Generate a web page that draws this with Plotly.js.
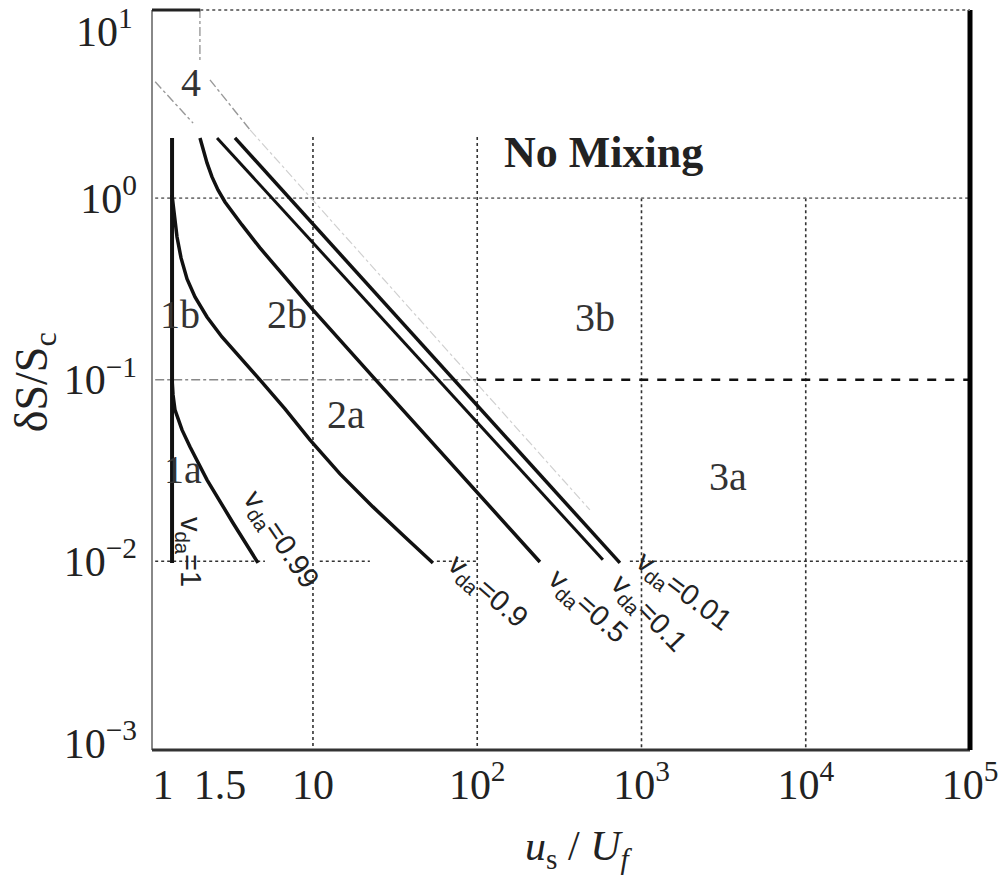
<!DOCTYPE html>
<html><head><meta charset="utf-8">
<script src="https://cdn.plot.ly/plotly-3.0.1.min.js"></script>
<style>html,body{margin:0;padding:0;background:#fff;} #chart{width:1000px;height:883px;}</style>
</head><body><div id="chart"></div>
<script>
// ---- curves (us/Uf , deltaS/Sc) ----
const v1X   = [1.387, 1.387];
const v1Y   = [2.145, 0.0098];
const v099X = [1.387, 1.406, 1.445, 1.595, 1.783, 2.264, 3.26, 4.63];
const v099Y = [0.100, 0.0825, 0.0683, 0.0529, 0.0427, 0.0281, 0.01626, 0.0098];
const v09X  = [1.386, 1.426, 1.487, 1.573, 1.711, 1.913, 2.264, 2.793, 3.594, 4.758, 6.754, 9.587, 14.60, 23.19, 36.31, 53.75];
const v09Y  = [1.041, 0.808, 0.611, 0.4686, 0.3589, 0.2857, 0.2217, 0.1720, 0.1335, 0.0997, 0.0691, 0.0466, 0.0303, 0.01994, 0.01362, 0.0098];
const v05X  = [2.052, 2.141, 2.264, 2.428, 2.641, 2.913, 3.260, 3.699, 4.758, 6.945, 10.0, 23.19, 119.5, 240.8];
const v05Y  = [2.145, 1.842, 1.562, 1.308, 1.110, 0.953, 0.829, 0.712, 0.5318, 0.3544, 0.2423, 0.1036, 0.01994, 0.00992];
const v01X  = [2.606, 582];
const v01Y  = [2.145, 0.0102];
const v001X = [3.35, 739];
const v001Y = [2.145, 0.0098];

// ---- region 4 boundaries ----
const b4aX = [1.095, 1.862];
const b4aY = [4.37, 2.59];
const b4bX = [2.36, 4.14];
const b4bY = [4.48, 2.375];
const b4cX = [4.14, 485];
const b4cY = [2.375, 0.0192];

// ---- axes ----
const xRangeLog = [0.02, 5.0];
const yRangeLog = [-3.039, 1.036];
const xTickVals = [1.222, 2.716, 10, 100, 1000, 10000, 100000];
const xTickText = ["1", "1.5", "10", "10<sup>2</sup>", "10<sup>3</sup>", "10<sup>4</sup>", "10<sup>5</sup>"];
const yTickVals = [0.001, 0.01, 0.1, 1];
const yTickText = ["10<sup>\u22123</sup>", "10<sup>\u22122</sup>", "10<sup>\u22121</sup>", "10<sup>0</sup>"];
const yTopTickVal = 10;
const yTopTickText = "10<sup>1</sup>";

// ---- grid lines ----
const gridX    = [10, 100, 1000, 10000];
const gridXTop = [2.17, 2.17, 1.0, 1.0];
const gridY1Segments = [[1.095, 100000]];
const gridY001Segments = [[1.095, 5.1], [11.0, 22.2], [56.8, 101], [850, 100000]];
const gridY01Left = [1.095, 100];
const gridY01Right = [100, 100000];
const topTickX = [2.05, 2.05];
const topTickY = [11, 5.55];

// ---- labels ----
const regionText = ["4", "1b", "2b", "3b", "2a", "1a", "3a"];
const regionX = [1.809, 1.551, 6.945, 520.6, 15.88, 1.617, 3357];
const regionY = [4.31, 0.2274, 0.2274, 0.2189, 0.0640, 0.03187, 0.02916];
const noMixX = 590.5, noMixY = 1.774;
const vLabelText = ["1", "0.99", "0.9", "0.5", "0.1", "0.01"];
const vLabelX = [1.759, 6.296, 114.6, 465.3, 1094, 1786];
const vLabelY = [0.01127, 0.01312, 0.00678, 0.00561, 0.00513, 0.00678];
const vLabelAngle = [90, 56, 41, 42, 46, 37];

const yMin = Math.pow(10, yRangeLog[0]);

const traces = [];
function line(x, y, color, width, dash) {
  traces.push({x: x, y: y, mode: 'lines', type: 'scatter', hoverinfo: 'skip', showlegend: false,
    line: {color: color, width: width, dash: dash || 'solid'}});
}
// grids
gridX.forEach((gx, i) => line([gx, gx], [gridXTop[i], yMin], '#333', 1.6, 'dot'));
gridY1Segments.forEach(s => line(s, [1, 1], '#777', 1.6, 'dot'));
gridY001Segments.forEach(s => line(s, [0.01, 0.01], '#333', 1.6, 'dot'));
line(gridY01Left, [0.1, 0.1], '#888', 1.6, 'dashdot');
line(gridY01Right, [0.1, 0.1], '#111', 2.6, 'dash');
line(topTickX, topTickY, '#999', 1.4, 'dashdot');
line(b4aX, b4aY, '#999', 1.4, 'dashdot');
line(b4bX, b4bY, '#999', 1.4, 'dashdot');
line(b4cX, b4cY, '#d0d0d0', 1.2, 'dashdot');
// curves
line(v1X, v1Y, '#111', 4);
line(v099X, v099Y, '#111', 3.5);
line(v09X, v09Y, '#111', 3.5);
line(v05X, v05Y, '#111', 3.5);
line(v01X, v01Y, '#111', 3);
line(v001X, v001Y, '#111', 3.5);

const serif = 'Liberation Serif, Times New Roman, serif';
const annotations = [];
regionText.forEach((t, i) => annotations.push({
  x: Math.log10(regionX[i]), y: Math.log10(regionY[i]), xref: 'x', yref: 'y', text: t,
  showarrow: false, font: {family: serif, size: 40, color: '#333'}
}));
annotations.push({x: Math.log10(noMixX), y: Math.log10(noMixY), xref: 'x', yref: 'y',
  text: '<b>No Mixing</b>', showarrow: false, font: {family: serif, size: 44, color: '#222'}});
vLabelText.forEach((t, i) => annotations.push({
  x: Math.log10(vLabelX[i]), y: Math.log10(vLabelY[i]), xref: 'x', yref: 'y',
  text: 'v<sub>da</sub>=' + t, textangle: vLabelAngle[i], showarrow: false,
  font: {family: 'Liberation Sans, Arial, sans-serif', size: 29, color: '#222'}
}));
// top y tick label, nudged down so it stays inside the page as in the reference
annotations.push({x: -0.0208, y: Math.log10(yTopTickVal), xref: 'paper', yref: 'y',
  xanchor: 'right', yanchor: 'middle', yshift: -12, text: yTopTickText, showarrow: false,
  font: {family: serif, size: 42, color: '#222'}});
annotations.push({x: -0.143, y: 0.497, xref: 'paper', yref: 'paper', xanchor: 'center', yanchor: 'middle',
  text: '\u03b4S/S<sub>c</sub>', textangle: -90, showarrow: false,
  font: {family: serif, size: 46, color: '#222'}});
annotations.push({x: 0.521, y: -0.134, xref: 'paper', yref: 'paper', xanchor: 'center', yanchor: 'middle',
  text: '<i>u</i><sub>s</sub> / <i>U<sub>f</sub></i>', showarrow: false,
  font: {family: serif, size: 42, color: '#222'}});

const shapes = [
  {type: 'line', xref: 'paper', yref: 'paper', x0: 0, x1: 0, y0: 0, y1: 1, line: {color: '#888', width: 2}},
  {type: 'line', xref: 'paper', yref: 'paper', x0: 0, x1: 1, y0: 0, y1: 0, line: {color: '#333', width: 3}},
  {type: 'line', xref: 'paper', yref: 'paper', x0: 1, x1: 1, y0: 0, y1: 1, line: {color: '#000', width: 5}},
  {type: 'line', xref: 'paper', yref: 'paper', x0: 0, x1: 0.059, y0: 1, y1: 1, line: {color: '#222', width: 3}},
  {type: 'line', xref: 'paper', yref: 'paper', x0: 0.059, x1: 1, y0: 1, y1: 1, line: {color: '#777', width: 2, dash: 'dot'}}
];

const layout = {
  width: 1000, height: 883,
  margin: {l: 152, r: 30, t: 10, b: 133},
  paper_bgcolor: '#fff', plot_bgcolor: '#fff',
  showlegend: false,
  xaxis: {type: 'log', range: xRangeLog, tickmode: 'array', tickvals: xTickVals, ticktext: xTickText,
    showgrid: false, zeroline: false, showline: false, ticks: '', ticklabelstandoff: 6,
    ticklabeloverflow: 'allow', tickfont: {family: serif, size: 42, color: '#222'}},
  yaxis: {type: 'log', range: yRangeLog, tickmode: 'array', tickvals: yTickVals, ticktext: yTickText,
    showgrid: false, zeroline: false, showline: false, ticks: '', ticklabelstandoff: 14,
    ticklabeloverflow: 'allow', tickfont: {family: serif, size: 42, color: '#222'}},
  annotations: annotations,
  shapes: shapes
};
Plotly.newPlot('chart', traces, layout, {staticPlot: true, displayModeBar: false});
</script></body></html>
